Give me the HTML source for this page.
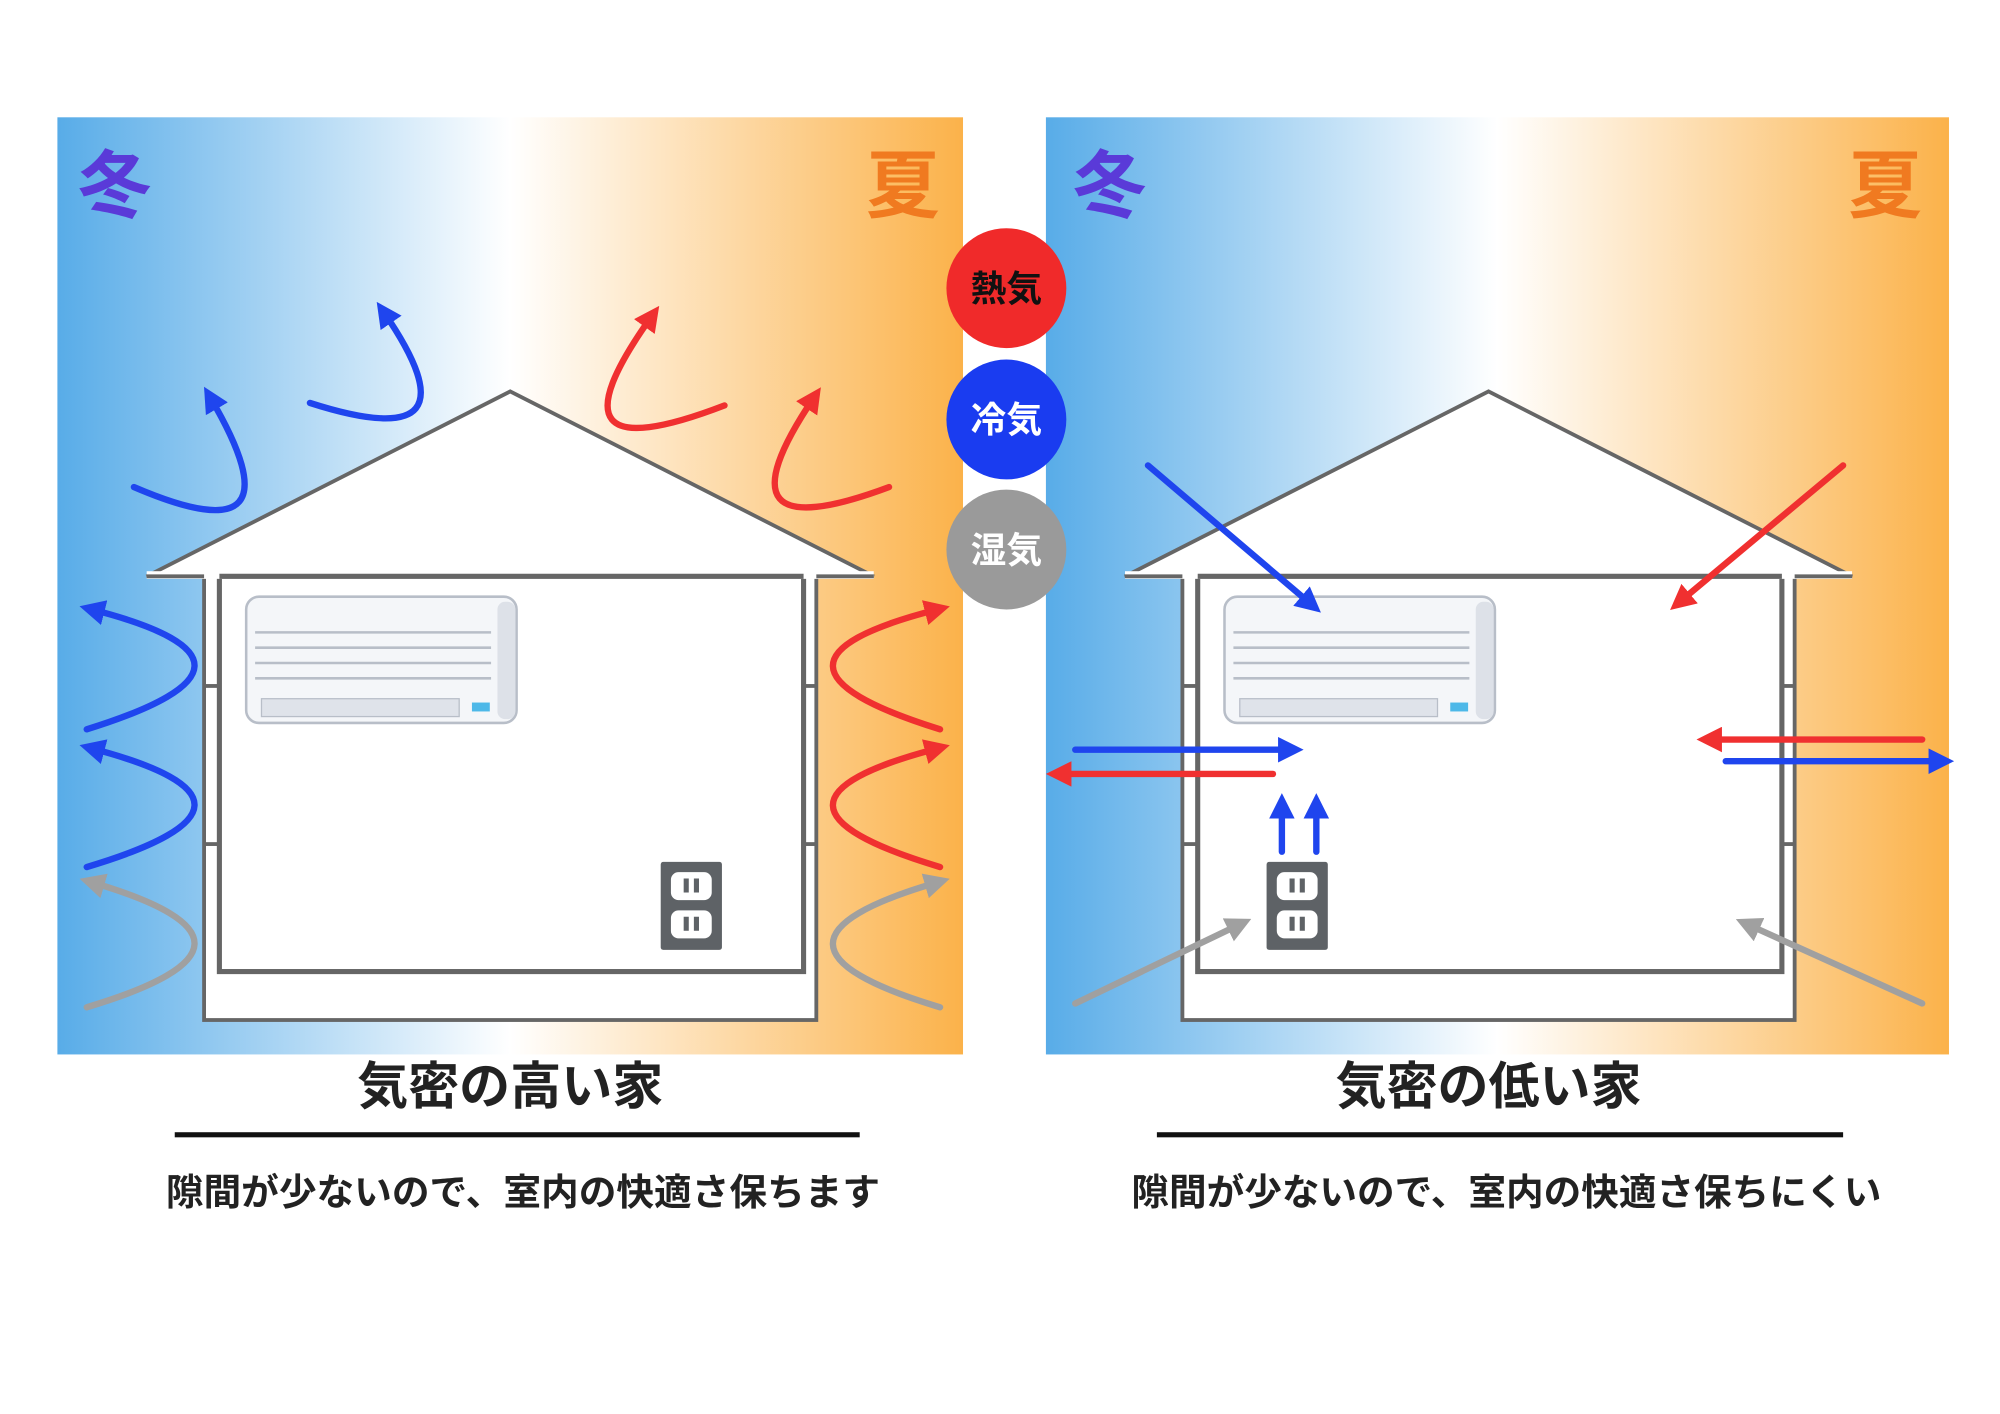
<!DOCTYPE html>
<html><head><meta charset="utf-8"><style>
html,body{margin:0;padding:0;background:#fff;}
svg{display:block;}
text{font-family:"Liberation Sans","Noto Sans CJK JP",sans-serif;font-weight:bold;}
</style></head><body>
<svg width="2000" height="1414" viewBox="0 0 1568 1109" preserveAspectRatio="none" xmlns="http://www.w3.org/2000/svg">
<defs>
<linearGradient id="g" x1="0" x2="1" y1="0" y2="0">
<stop offset="0" stop-color="#58ace8"/>
<stop offset="0.5" stop-color="#ffffff"/>
<stop offset="1" stop-color="#fbb24a"/>
</linearGradient>
<marker id="mb" markerWidth="4" markerHeight="4" refX="2" refY="2" orient="auto" markerUnits="strokeWidth"><path d="M0,0 L4,2 L0,4 Z" fill="#1f45ee"/></marker>
<marker id="mr" markerWidth="4" markerHeight="4" refX="2" refY="2" orient="auto" markerUnits="strokeWidth"><path d="M0,0 L4,2 L0,4 Z" fill="#f03030"/></marker>
<marker id="mg" markerWidth="4" markerHeight="4" refX="2" refY="2" orient="auto" markerUnits="strokeWidth"><path d="M0,0 L4,2 L0,4 Z" fill="#a0a0a0"/></marker>
<g id="house">
<polygon points="115,452 400,307 685,452" fill="#fff" stroke="#666" stroke-width="3"/>
<rect x="160" y="452" width="480" height="348" fill="#fff" stroke="#666" stroke-width="3"/>
<rect x="172" y="452" width="458" height="310" fill="#fff" stroke="#666" stroke-width="4"/>
<line x1="160" y1="538" x2="172" y2="538" stroke="#666" stroke-width="3"/>
<line x1="160" y1="662" x2="172" y2="662" stroke="#666" stroke-width="3"/>
<line x1="630" y1="538" x2="640" y2="538" stroke="#666" stroke-width="3"/>
<line x1="630" y1="662" x2="640" y2="662" stroke="#666" stroke-width="3"/>
<rect x="115" y="448" width="570" height="6" fill="#fff" stroke="none"/>
<line x1="115" y1="452" x2="160" y2="452" stroke="#666" stroke-width="3"/>
<line x1="640" y1="452" x2="685" y2="452" stroke="#666" stroke-width="3"/>
<line x1="172" y1="452" x2="630" y2="452" stroke="#666" stroke-width="4"/>
<g>
<rect x="193" y="468" width="212" height="99" rx="10" fill="#f4f6f9" stroke="#b8bec8" stroke-width="2"/>
<line x1="200" y1="496" x2="385" y2="496" stroke="#b8bec8" stroke-width="2"/>
<line x1="200" y1="508" x2="385" y2="508" stroke="#b8bec8" stroke-width="2"/>
<line x1="200" y1="520" x2="385" y2="520" stroke="#b8bec8" stroke-width="2"/>
<line x1="200" y1="532" x2="385" y2="532" stroke="#b8bec8" stroke-width="2"/>
<rect x="205" y="548" width="155" height="14" fill="#dfe3ea" stroke="#b8bec8"/>
<rect x="370" y="551" width="14" height="7" fill="#4db8e8"/>
<rect x="390" y="472" width="14" height="92" rx="6" fill="#dde1e8"/>
</g>
</g>
<g id="outlet">
<rect x="0" y="0" width="48" height="69" fill="#5e6266" rx="2"/>
<rect x="8" y="8" width="32" height="22" rx="6" fill="#fff"/>
<rect x="8" y="38" width="32" height="22" rx="6" fill="#fff"/>
<rect x="18" y="13" width="4" height="11" fill="#5e6266"/><rect x="26" y="13" width="4" height="11" fill="#5e6266"/>
<rect x="18" y="43" width="4" height="11" fill="#5e6266"/><rect x="26" y="43" width="4" height="11" fill="#5e6266"/>
</g>
</defs>
<rect x="45" y="92" width="710" height="735" fill="url(#g)"/>
<rect x="820" y="92" width="708" height="735" fill="url(#g)"/>
<use href="#house"/>
<use href="#house" transform="translate(767,0)"/>
<use href="#outlet" transform="translate(518,676)"/>
<use href="#outlet" transform="translate(993,676)"/>

<text x="90" y="166" font-size="58" fill="#5a3ad8" text-anchor="middle">冬</text>
<text x="708" y="166" font-size="58" fill="#f07a20" text-anchor="middle">夏</text>
<text x="870" y="166" font-size="58" fill="#5a3ad8" text-anchor="middle">冬</text>
<text x="1478" y="166" font-size="58" fill="#f07a20" text-anchor="middle">夏</text>

<circle cx="789" cy="226" r="47" fill="#f02a2a"/>
<circle cx="789" cy="329" r="47" fill="#1a3cf0"/>
<circle cx="789" cy="431" r="47" fill="#9a9a9a"/>
<text x="789" y="236" font-size="28" fill="#111" text-anchor="middle">熱気</text>
<text x="789" y="339" font-size="28" fill="#fff" text-anchor="middle">冷気</text>
<text x="789" y="441" font-size="28" fill="#fff" text-anchor="middle">湿気</text>

<g fill="none" stroke-width="5" stroke-linecap="round">
<path d="M105,382 Q240,440 165,312" stroke="#1f45ee" marker-end="url(#mb)"/>
<path d="M243,316 Q380,360 301,245" stroke="#1f45ee" marker-end="url(#mb)"/>
<path d="M568,318 Q420,375 511,248" stroke="#f03030" marker-end="url(#mr)"/>
<path d="M697,382 Q555,435 638,312" stroke="#f03030" marker-end="url(#mr)"/>
<path d="M68,572 Q235,520 72,478" stroke="#1f45ee" marker-end="url(#mb)"/>
<path d="M68,680 Q235,630 72,587" stroke="#1f45ee" marker-end="url(#mb)"/>
<path d="M68,790 Q235,740 72,692" stroke="#a0a0a0" marker-end="url(#mg)"/>
<path d="M737,572 Q570,520 735,478" stroke="#f03030" marker-end="url(#mr)"/>
<path d="M737,680 Q570,630 735,587" stroke="#f03030" marker-end="url(#mr)"/>
<path d="M737,790 Q570,740 735,692" stroke="#a0a0a0" marker-end="url(#mg)"/>

<path d="M900,365 L1028,474" stroke="#1f45ee" marker-end="url(#mb)"/>
<path d="M1445,365 L1317,472" stroke="#f03030" marker-end="url(#mr)"/>
<path d="M843,588 L1012,588" stroke="#1f45ee" marker-end="url(#mb)"/>
<path d="M998,607 L830,607" stroke="#f03030" marker-end="url(#mr)"/>
<path d="M1507,580 L1340,580" stroke="#f03030" marker-end="url(#mr)"/>
<path d="M1353,597 L1522,597" stroke="#1f45ee" marker-end="url(#mb)"/>
<path d="M1005,668 L1005,632" stroke="#1f45ee" marker-end="url(#mb)"/>
<path d="M1032,668 L1032,632" stroke="#1f45ee" marker-end="url(#mb)"/>
<path d="M843,787 L972,725" stroke="#a0a0a0" marker-end="url(#mg)"/>
<path d="M1507,787 L1370,725" stroke="#a0a0a0" marker-end="url(#mg)"/>
</g>

<text x="400" y="866" font-size="40" fill="#222" text-anchor="middle">気密の高い家</text>
<rect x="137" y="888" width="537" height="4" fill="#111"/>
<text x="130" y="945" font-size="29" fill="#222" textLength="560" lengthAdjust="spacingAndGlyphs">隙間が少ないので、室内の快適さ保ちます</text>
<text x="1167" y="866" font-size="40" fill="#222" text-anchor="middle">気密の低い家</text>
<rect x="907" y="888" width="538" height="4" fill="#111"/>
<text x="887" y="945" font-size="29" fill="#222" textLength="588" lengthAdjust="spacingAndGlyphs">隙間が少ないので、室内の快適さ保ちにくい</text>
</svg>
</body></html>
